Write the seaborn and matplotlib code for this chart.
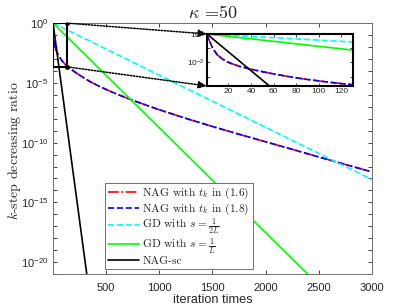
import numpy as np
import pandas as pd
import matplotlib
matplotlib.use("Agg")
import matplotlib.pyplot as plt
import seaborn as sns
from matplotlib.ticker import FixedLocator, LogFormatterSciNotation, NullFormatter
from matplotlib.patches import Rectangle

# ---------------- data ----------------
nag_k = [1, 2, 3.5, 6, 10, 14, 18, 24, 30, 39, 50, 60, 75, 90, 110, 130, 150, 200, 250,
         300, 350, 420, 500, 600, 730, 850, 1000, 1250, 1500, 1750, 2000, 2250, 2500,
         2750, 3000]
nag_log10 = [0, -0.3, -0.53, -1.0, -1.46, -1.72, -1.93, -2.12, -2.28, -2.46, -2.65, -2.81,
             -3.02, -3.2, -3.4, -3.57, -3.73, -4.05, -4.35, -4.63, -4.9, -5.22, -5.55,
             -5.94, -6.39, -6.78, -7.25, -7.97, -8.65, -9.3, -9.93, -10.56, -11.2,
             -11.83, -12.45]
nag16_k = nag_k
nag16_y = [10.0 ** v for v in nag_log10]
nag18_k = nag_k
nag18_y = [10.0 ** v for v in nag_log10]
gd2_k = [1, 3000]
gd2_y = [1.0, 8.1e-14]
gd1_k = [1, 3000]
gd1_y = [1.0, 4.9e-27]
sc_k = [1, 400]
sc_y = [1.0, 4.0e-27]

labels = [r"NAG with $t_k$ in (1.6)", r"NAG with $t_k$ in (1.8)",
          r"GD with $s=\frac{1}{2L}$", r"GD with $s=\frac{1}{L}$", "NAG-sc"]
xticks = [500, 1000, 1500, 2000, 2500, 3000]
yticks_major = [1e0, 1e-5, 1e-10, 1e-15, 1e-20]
inset_xticks = [20, 40, 60, 80, 100, 120]
inset_yticks = [1e0, 1e-2]

series = [
    (nag16_k, nag16_y, "#ff0000", "-.", labels[0]),
    (nag18_k, nag18_y, "#0000ff", "--", labels[1]),
    (gd2_k, gd2_y, "#00ffff", "--", labels[2]),
    (gd1_k, gd1_y, "#00ff00", "-", labels[3]),
    (sc_k, sc_y, "#000000", "-", labels[4]),
]

# ---------------- style ----------------
sns.set_style("ticks")
plt.rcParams["font.family"] = ["Liberation Sans", "DejaVu Sans"]
plt.rcParams["mathtext.fontset"] = "cm"
plt.rcParams["xtick.direction"] = "in"
plt.rcParams["ytick.direction"] = "in"
grey = "#262626"
LW = 1.2

fig = plt.figure(figsize=(4.11, 3.08), dpi=100)
ax = fig.add_axes([0.129, 0.110, 0.776, 0.815])

for k, y, c, ls, lab in series:
    sns.lineplot(x=k, y=y, ax=ax, color=c, linestyle=ls, linewidth=LW, label=lab,
                 sort=False, estimator=None)

ax.set_yscale("log")
ax.set_xlim(1, 3000)
ax.set_ylim(1e-21, 1)
ax.xaxis.set_major_locator(FixedLocator(xticks))
ax.yaxis.set_major_locator(FixedLocator(yticks_major))
ax.yaxis.set_major_formatter(LogFormatterSciNotation())
ax.yaxis.set_minor_locator(FixedLocator([10.0**(-i) for i in range(0, 22)]))
ax.yaxis.set_minor_formatter(NullFormatter())
ax.tick_params(axis="both", which="both", top=True, right=True, colors=grey,
               labelsize=8, length=3, width=0.6)
ax.tick_params(axis="x", pad=6.5)
for s in ax.spines.values():
    s.set_color("#707070")
    s.set_linewidth(0.7)

ax.set_xlabel("iteration times", fontsize=9.2, color=grey, labelpad=0.5)
ax.set_ylabel(r"$k$-step decreasing ratio", fontfamily="cmr10", fontsize=10)
ax.yaxis.set_label_coords(-0.095, 0.49)
ax.set_title(r"$\kappa$ =50", fontfamily="cmr10", fontsize=13, pad=4)

leg = ax.legend(loc="lower left", bbox_to_anchor=(0.163, 0.021), borderaxespad=0,
                prop={"family": "cmr10", "size": 8.3}, frameon=True, fancybox=False,
                framealpha=1, edgecolor="#707070", handlelength=2.7, handletextpad=0.3,
                labelspacing=0.0, borderpad=0.25)
leg.get_frame().set_linewidth(0.7)

# zoom rectangle
rx0, rx1, ry0, ry1 = 1, 130, 2.2e-4, 1.0
ax.add_patch(Rectangle((rx0, ry0), rx1 - rx0, ry1 - ry0, fill=False, ec="k", lw=1.5, zorder=5))

# inset
ins_pos = [0.5036, 0.7208, 0.3545, 0.1688]
axins = fig.add_axes(ins_pos)
for k, y, c, ls, lab in series:
    sns.lineplot(x=k, y=y, ax=axins, color=c, linestyle=ls, linewidth=LW,
                 sort=False, estimator=None, legend=False)
axins.set_yscale("log")
axins.set_xlim(rx0, rx1)
axins.set_ylim(ry0, ry1)
axins.xaxis.set_major_locator(FixedLocator(inset_xticks))
axins.yaxis.set_major_locator(FixedLocator(inset_yticks))
axins.yaxis.set_major_formatter(LogFormatterSciNotation())
axins.yaxis.set_minor_locator(FixedLocator([1e-1, 1e-3]))
axins.yaxis.set_minor_formatter(NullFormatter())
axins.tick_params(axis="both", which="both", top=True, right=True, colors=grey,
                  labelsize=6, length=2, width=0.6, pad=1.5)
for s in axins.spines.values():
    s.set_color("k")
    s.set_linewidth(1.5)
axins.set_xlabel("")
axins.set_ylabel("")

# dotted connectors with arrowheads
for (dx, dy), (fx, fy) in [((rx1, ry1), (ins_pos[0], ins_pos[1] + ins_pos[3])),
                           ((rx1, ry0), (ins_pos[0], ins_pos[1]))]:
    ax.annotate("", xy=(fx, fy), xycoords="figure fraction", xytext=(dx, dy),
                textcoords="data",
                arrowprops=dict(arrowstyle="-|>,head_length=0.5,head_width=0.22",
                                linestyle=(0, (1, 1)), color="k", lw=1.1,
                                shrinkA=0, shrinkB=0), zorder=6)
    ax.plot([dx], [dy], marker="o", ms=2.5, color="k", zorder=6)

fig.savefig("out.png", dpi=100)
